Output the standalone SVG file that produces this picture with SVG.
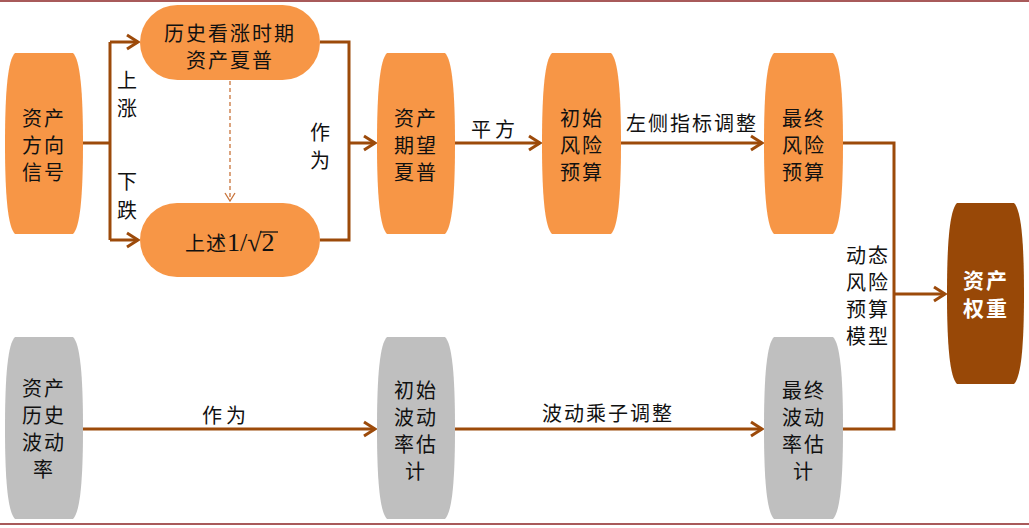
<svg xmlns="http://www.w3.org/2000/svg" width="1029" height="528" viewBox="0 0 1029 528">
<style>
.orange{fill:#F79646}
.gray{fill:#BFBFBF}
.dark{fill:#984807}
.t{font-family:"Noto Sans CJK SC","Noto Sans",sans-serif;font-size:20px;fill:#111;text-anchor:middle;letter-spacing:2px}
.tw{font-family:"Noto Sans CJK SC","Noto Sans",sans-serif;font-size:21px;fill:#fff;text-anchor:middle;font-weight:bold;letter-spacing:2px}
.c{fill:none;stroke:#9C4A0A;stroke-width:3}
.d{fill:none;stroke:#C8733A;stroke-width:1.3;stroke-dasharray:4 3}
</style>
<defs>
<marker id="ah" markerUnits="userSpaceOnUse" markerWidth="16" markerHeight="18" viewBox="0 0 16 18" refX="14" refY="9" orient="auto">
<path d="M3,2 L14,9 L3,16" fill="none" stroke="#9C4A0A" stroke-width="3"/>
</marker>
<marker id="ahd" markerUnits="userSpaceOnUse" markerWidth="12" markerHeight="12" viewBox="0 0 12 12" refX="11" refY="6" orient="auto">
<path d="M3,1 L11,6 L3,11" fill="none" stroke="#C8733A" stroke-width="1.3"/>
</marker>
</defs>
<rect x="0" y="0" width="1029" height="528" fill="#fff"/>
<line x1="0" y1="1" x2="1029" y2="1" stroke="#8B2323" stroke-width="1.5"/>
<line x1="0" y1="524" x2="1029" y2="524" stroke="#8B2323" stroke-width="1.5"/>

<g id="connectors">
<polyline class="c" points="83,143 110,143"/>
<polyline class="c" points="110,42 110,240"/>
<polyline class="c" points="110,42 138,42" marker-end="url(#ah)"/>
<polyline class="c" points="110,240 138,240" marker-end="url(#ah)"/>
<line class="d" x1="230" y1="81" x2="230" y2="201" marker-end="url(#ahd)"/>
<polyline class="c" points="320,42 349,42 349,240 320,240"/>
<polyline class="c" points="349,143 375,143" marker-end="url(#ah)"/>
<polyline class="c" points="455,143 540,143" marker-end="url(#ah)"/>
<polyline class="c" points="621,143 762,143" marker-end="url(#ah)"/>
<polyline class="c" points="843,143 894,143 894,429 843,429"/>
<polyline class="c" points="894,294 945,294" marker-end="url(#ah)"/>
<polyline class="c" points="83,429 375,429" marker-end="url(#ah)"/>
<polyline class="c" points="455,429 762,429" marker-end="url(#ah)"/>
<text class="t" x="128" y="88">上</text>
<text class="t" x="128" y="116">涨</text>
<text class="t" x="128" y="189">下</text>
<text class="t" x="128" y="218">跌</text>
<text class="t" x="321" y="140">作</text>
<text class="t" x="321" y="168">为</text>
<text class="t" x="495" y="137" style="letter-spacing:4px">平方</text>
<text class="t" x="692" y="131">左侧指标调整</text>
<text class="t" x="868" y="263">动态</text>
<text class="t" x="868" y="290">风险</text>
<text class="t" x="868" y="317">预算</text>
<text class="t" x="868" y="344">模型</text>
<text class="t" x="226" y="423" style="letter-spacing:4px">作为</text>
<text class="t" x="608" y="421">波动乘子调整</text>
</g>

<g id="n-direction">
<path class="orange" d="M15,53 H73 C80,60 83,90 83,143.5 C83,197 80,227 73,234 H15 C8,227 5,197 5,143.5 C5,90 8,60 15,53 Z"/>
<text class="t" x="44" y="126">资产</text>
<text class="t" x="44" y="153">方向</text>
<text class="t" x="44" y="180">信号</text>
</g>

<g id="n-bull">
<rect class="orange" x="140" y="5" width="180" height="75" rx="37.5"/>
<text class="t" x="230" y="41">历史看涨时期</text>
<text class="t" x="230" y="68">资产夏普</text>
</g>

<g id="n-bear">
<rect class="orange" x="140" y="203" width="180" height="74" rx="37"/>
<text class="t" x="185" y="251" style="text-anchor:start;letter-spacing:1px">上述<tspan font-family="Liberation Serif,serif" font-size="26px" letter-spacing="0">1/√2</tspan></text>
<line x1="260" y1="232" x2="278" y2="232" stroke="#111" stroke-width="1.3"/>
</g>

<g id="n-expected">
<path class="orange" d="M387,53 H445 C452,60 455,90 455,143.5 C455,197 452,227 445,234 H387 C380,227 377,197 377,143.5 C377,90 380,60 387,53 Z"/>
<text class="t" x="416" y="126">资产</text>
<text class="t" x="416" y="153">期望</text>
<text class="t" x="416" y="180">夏普</text>
</g>

<g id="n-init-risk">
<path class="orange" d="M552,53 H611 C618,60 621,90 621,143.5 C621,197 618,227 611,234 H552 C545,227 542,197 542,143.5 C542,90 545,60 552,53 Z"/>
<text class="t" x="582" y="126">初始</text>
<text class="t" x="582" y="153">风险</text>
<text class="t" x="582" y="180">预算</text>
</g>

<g id="n-final-risk">
<path class="orange" d="M774,53 H833 C840,60 843,90 843,143.5 C843,197 840,227 833,234 H774 C767,227 764,197 764,143.5 C764,90 767,60 774,53 Z"/>
<text class="t" x="804" y="126">最终</text>
<text class="t" x="804" y="153">风险</text>
<text class="t" x="804" y="180">预算</text>
</g>

<g id="n-weight">
<path class="dark" d="M957,203 H1014 C1021,210 1024,240 1024,293.5 C1024,347 1021,377 1014,384 H957 C950,377 947,347 947,293.5 C947,240 950,210 957,203 Z"/>
<text class="tw" x="986" y="288">资产</text>
<text class="tw" x="986" y="316">权重</text>
</g>

<g id="n-hist-vol">
<path class="gray" d="M15,337 H73 C80,344 83,374 83,428 C83,482 80,512 73,519 H15 C8,512 5,482 5,428 C5,374 8,344 15,337 Z"/>
<text class="t" x="44" y="396">资产</text>
<text class="t" x="44" y="423">历史</text>
<text class="t" x="44" y="450">波动</text>
<text class="t" x="44" y="477">率</text>
</g>

<g id="n-init-vol">
<path class="gray" d="M387,337 H445 C452,344 455,374 455,428 C455,482 452,512 445,519 H387 C380,512 377,482 377,428 C377,374 380,344 387,337 Z"/>
<text class="t" x="416" y="398">初始</text>
<text class="t" x="416" y="425">波动</text>
<text class="t" x="416" y="452">率估</text>
<text class="t" x="416" y="479">计</text>
</g>

<g id="n-final-vol">
<path class="gray" d="M774,337 H833 C840,344 843,374 843,428 C843,482 840,512 833,519 H774 C767,512 764,482 764,428 C764,374 767,344 774,337 Z"/>
<text class="t" x="804" y="398">最终</text>
<text class="t" x="804" y="425">波动</text>
<text class="t" x="804" y="452">率估</text>
<text class="t" x="804" y="479">计</text>
</g>
</svg>
